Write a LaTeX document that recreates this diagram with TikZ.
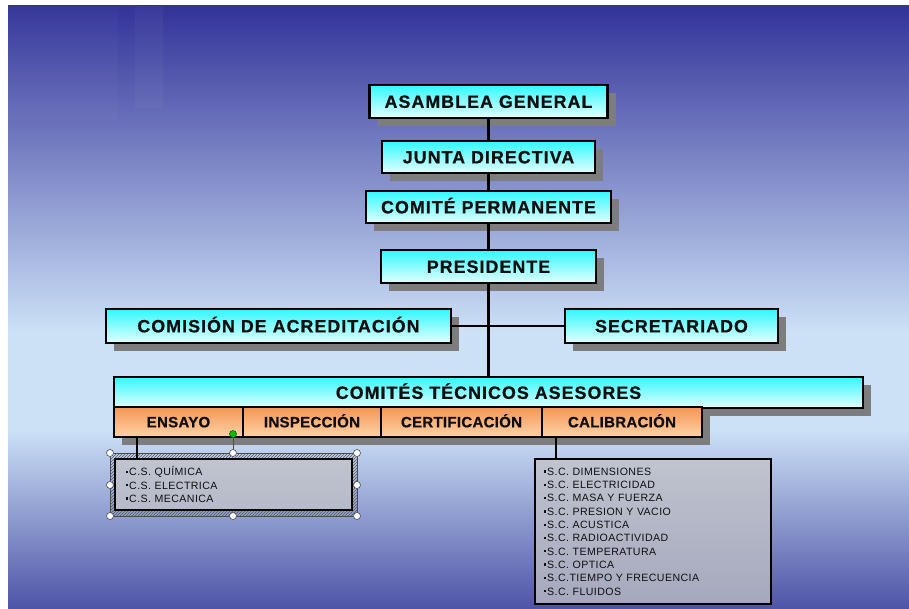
\documentclass[tikz,border=0pt]{standalone}
\usepackage{fontspec}
\setmainfont{Liberation Sans}
\newfontfamily\headfont[LetterSpace=6,BoldFeatures={FakeBold=0.8}]{Liberation Sans}
\newfontfamily\cellfont[LetterSpace=2,BoldFeatures={FakeBold=0.6}]{Liberation Sans}
\newfontfamily\listfont[LetterSpace=4]{Liberation Sans}
\usetikzlibrary{shadows,patterns,calc}
\definecolor{bgtop}{RGB}{51,51,153}
\definecolor{bglight}{RGB}{204,224,246}
\definecolor{bgbot}{RGB}{78,84,166}
\definecolor{cyanT}{RGB}{50,248,255}
\definecolor{cyanB}{RGB}{228,255,255}
\definecolor{orT}{RGB}{244,150,85}
\definecolor{orB}{RGB}{255,210,168}
\definecolor{shad}{RGB}{125,125,128}
\definecolor{txt}{RGB}{15,15,15}
\definecolor{listfill}{RGB}{195,195,198}
\newcommand\bul{\rule[2.7pt]{2.3pt}{2.3pt}\kern0.9pt}
\tikzset{
  shad/.style={drop shadow={shadow xshift=8pt,shadow yshift=-8pt,fill=shad,opacity=1}},
  headbox/.style={draw=black,line width=2.4pt,top color=cyanT,bottom color=cyanB,shad,
    font=\headfont\bfseries\fontsize{17.8}{20}\selectfont,text=txt,inner sep=0pt,
    text height=12.7pt,text depth=0pt},
  cellbox/.style={draw=black,line width=2.4pt,top color=orT,bottom color=orB,shad,
    font=\cellfont\bfseries\fontsize{15}{17}\selectfont,text=txt,inner sep=0pt,minimum height=30pt,
    text height=10.7pt,text depth=0pt},
  listbox/.style={draw=black,line width=2.6pt,fill=listfill,fill opacity=0.75,text opacity=1,
    font=\listfont\fontsize{10.6}{13.3}\selectfont,text=txt,align=left,inner ysep=0pt},
  conn/.style={draw=black,line width=2.7pt},
  handle/.style={circle,draw=gray!60!black,fill=white,line width=0.6pt,minimum size=7pt,inner sep=0pt},
}
\begin{document}
\begin{tikzpicture}[x=1pt,y=-1pt]
\useasboundingbox (0,0) rectangle (909,609);
% background
\fill[white] (0,0) rectangle (909,609);
\shade[top color=bgtop,bottom color=bglight] (8,6) rectangle (909,331);
\fill[bglight] (8,330) rectangle (909,431);
\shade[top color=bglight,bottom color=bgbot] (8,430) rectangle (909,608);
\fill[white,opacity=0.025] (8,6) rectangle (118,120);
\fill[white,opacity=0.03] (135,6) rectangle (163,108);

% main column
\node[headbox,minimum width=238pt,minimum height=33pt] (ag) at (488.5,101.5) {ASAMBLEA GENERAL};
\node[headbox,minimum width=213pt,minimum height=32pt] (jd) at (488.5,157) {JUNTA DIRECTIVA};
\node[headbox,minimum width=245pt,minimum height=32pt] (cp) at (488.5,207) {COMITÉ PERMANENTE};
\node[headbox,minimum width=215pt,minimum height=33pt] (pres) at (488.5,266.5) {PRESIDENTE};
\node[headbox,minimum width=345pt,minimum height=34pt] (ca) at (278.5,326) {COMISIÓN DE ACREDITACIÓN};
\node[headbox,minimum width=213pt,minimum height=34pt] (sec) at (671.5,326) {SECRETARIADO};
\node[headbox,minimum width=749pt,minimum height=31pt] (cta) at (488.5,392.5) {COMITÉS TÉCNICOS ASESORES};

% orange cells
\node[cellbox,minimum width=129pt] (ens) at (178.5,422) {ENSAYO};
\node[cellbox,minimum width=138pt] (insp) at (312,422) {INSPECCIÓN};
\node[cellbox,minimum width=161pt] (cert) at (461.5,422) {CERTIFICACIÓN};
\node[cellbox,minimum width=160pt] (cal) at (622,422) {CALIBRACIÓN};

% connectors
\draw[conn] (ag) -- (jd);
\draw[conn] (jd) -- (cp);
\draw[conn] (cp) -- (pres);
\draw[conn] (pres.south) -- (pres.south |- cta.north);
\draw[conn] (ca.east) -- (sec.west);

% selection frame around left list
\fill[pattern=north east lines,pattern color=gray!70!black,even odd rule]
  (110,453) rectangle (357,516) (115,459) rectangle (352,510);
\draw[gray!60!black,line width=0.4pt] (110,453) rectangle (357,516);

% lists
\node[listbox,text width=215pt,inner xsep=11pt,minimum height=51pt] (cs) at (233.5,484.5)
  {\bul C.S. QUÍMICA\\\bul C.S. ELECTRICA\\\bul C.S. MECANICA};
\node[listbox,text width=218pt,inner xsep=9pt,minimum height=145pt] (sc) at (653,531.5)
  {\bul S.C. DIMENSIONES\\\bul S.C. ELECTRICIDAD\\\bul S.C. MASA Y FUERZA\\\bul S.C. PRESION Y VACIO\\\bul S.C. ACUSTICA\\\bul S.C. RADIOACTIVIDAD\\\bul S.C. TEMPERATURA\\\bul S.C. OPTICA\\\bul S.C.TIEMPO Y FRECUENCIA\\\bul S.C. FLUIDOS};

\coordinate (l1) at (137,440);
\coordinate (l2) at (556,440);
\draw[conn] (ens.south -| l1) -- (cs.north -| l1);
\draw[conn] (cal.south -| l2) -- (sc.north -| l2);

% handles
\coordinate (gh) at (233,434);
\draw[gray!60!black,line width=0.6pt] (gh) -- (233,453);
\node[circle,draw=green!40!black,fill=green!75!black,minimum size=7pt,inner sep=0pt,line width=0.6pt] (g) at (gh) {};
\foreach \p [count=\i] in {(110,453),(233,453),(357,453),(110,485),(357,485),(110,516),(233,516),(357,516)}
  \node[handle] (h\i) at \p {};
\end{tikzpicture}
\end{document}
